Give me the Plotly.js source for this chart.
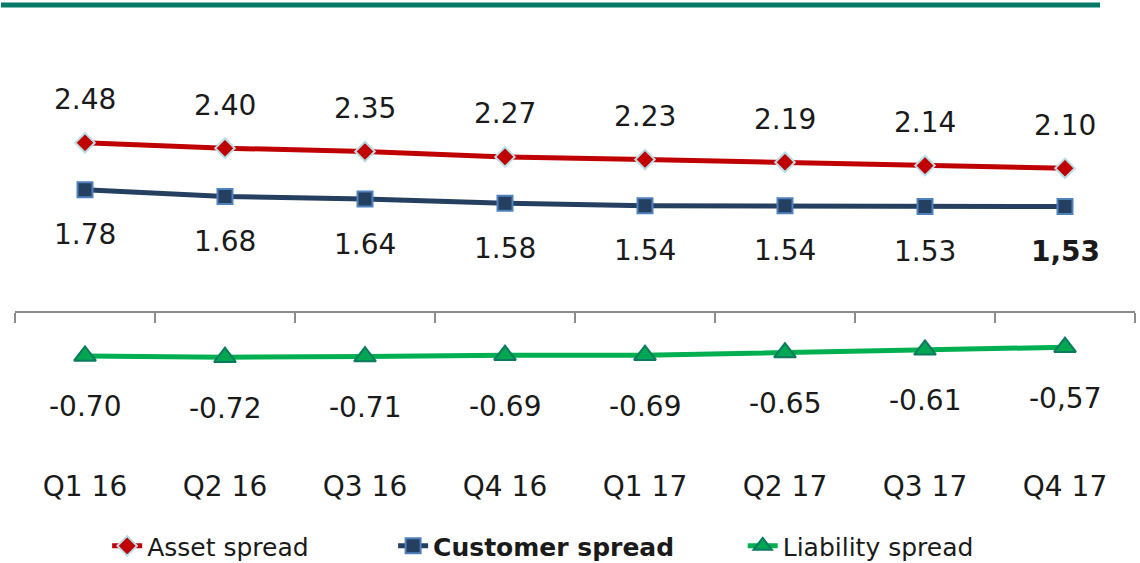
<!DOCTYPE html>
<html>
<head>
<meta charset="utf-8">
<script src="https://cdn.plot.ly/plotly-3.0.1.min.js"></script>
<style>html,body{margin:0;padding:0;background:#fff;}#chart{width:1140px;height:563px;}</style>
</head>
<body>
<div id="chart"></div>
<script>
const quarters = ["Q1 16","Q2 16","Q3 16","Q4 16","Q1 17","Q2 17","Q3 17","Q4 17"];
const assetSpread = [2.48, 2.40, 2.35, 2.27, 2.23, 2.19, 2.14, 2.10];
const customerSpread = [1.78, 1.68, 1.64, 1.58, 1.54, 1.54, 1.53, 1.53];
const liabilitySpread = [-0.70, -0.72, -0.71, -0.69, -0.69, -0.65, -0.61, -0.57];
const assetLabels = ["2.48","2.40","2.35","2.27","2.23","2.19","2.14","2.10"];
const customerLabels = ["1.78","1.68","1.64","1.58","1.54","1.54","1.53","<b>1,53</b>"];
const liabilityLabels = ["-0.70","-0.72","-0.71","-0.69","-0.69","-0.65","-0.61","-0,57"];
const seriesNames = ["Asset spread", "<b>Customer spread</b>", "Liability spread"];

const FONT = "DejaVu Sans, Liberation Sans, sans-serif";
const NB = "\u00a0";

const traces = [
  {x: quarters, y: assetSpread, name: seriesNames[0] + NB.repeat(10), type: "scatter", mode: "lines+markers",
   line: {color: "#c00000", width: 5},
   marker: {symbol: "diamond", size: 15, color: "#c00000", line: {color: "#b7dee8", width: 2}}},
  {x: quarters, y: customerSpread, name: seriesNames[1] + NB.repeat(8), type: "scatter", mode: "lines+markers",
   line: {color: "#243f60", width: 5},
   marker: {symbol: "square", size: 15, color: "#243f60", line: {color: "#4f81bd", width: 2}}},
  {x: quarters, y: liabilitySpread, name: seriesNames[2], type: "scatter", mode: "lines+markers",
   line: {color: "#00b050", width: 5},
   marker: {symbol: "triangle-up", size: 19, color: "#00a651", line: {color: "#0b7a5e", width: 2}}},
  {x: quarters, y: liabilitySpread, xaxis: "x2", type: "scatter", mode: "markers",
   marker: {opacity: 0}, showlegend: false, hoverinfo: "skip"}
];

const annotations = [];
function addLabels(vals, labels, shift) {
  vals.forEach((v, i) => {
    annotations.push({x: quarters[i], y: v, text: labels[i], showarrow: false,
      yshift: shift, font: {family: FONT, size: 28, color: "#1a1a1a"}});
  });
}
addLabels(assetSpread, assetLabels, 43);
addLabels(customerSpread, customerLabels, -45);
addLabels(liabilitySpread, liabilityLabels, -51);

const layout = {
  width: 1140, height: 563,
  margin: {l: 15, r: 5, t: 20, b: 96},
  paper_bgcolor: "#fff", plot_bgcolor: "#fff",
  showlegend: true,
  legend: {orientation: "h", xref: "container", yref: "container", x: 0.094, xanchor: "left",
    y: 0.030, yanchor: "middle",
    font: {family: FONT, size: 25, color: "#1a1a1a"}},
  xaxis: {type: "category", range: [-0.5, 7.5], showline: false, ticks: "", showgrid: false,
    zeroline: false, tickfont: {family: FONT, size: 28, color: "#1a1a1a"}, fixedrange: true},
  xaxis2: {type: "category", overlaying: "x", anchor: "free", position: 0.3477, range: [-0.5, 7.5],
    showline: true, linecolor: "#8c8c8c", linewidth: 2, ticks: "outside", tickson: "boundaries",
    ticklen: 10, tickwidth: 2, tickcolor: "#8c8c8c", showticklabels: false, showgrid: false, zeroline: false},
  yaxis: {range: [-2.358, 4.313], visible: false, showgrid: false, zeroline: false},
  annotations: annotations,
  shapes: [{type: "line", xref: "paper", yref: "paper", x0: -0.0125, x1: 0.96875, y0: 1.0336, y1: 1.0336,
    line: {color: "#077a65", width: 5}}]
};

Plotly.newPlot("chart", traces, layout, {displayModeBar: false, staticPlot: true});
</script>
</body>
</html>
